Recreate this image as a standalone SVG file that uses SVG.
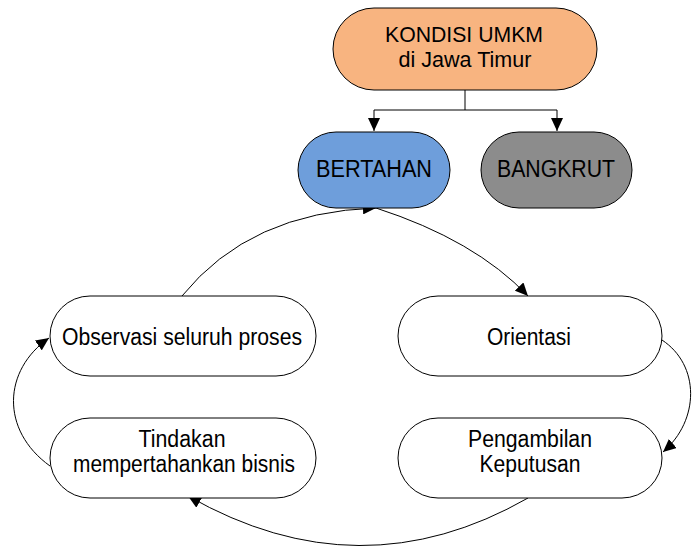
<svg xmlns="http://www.w3.org/2000/svg" width="692" height="547" viewBox="0 0 692 547">
<style>
.n{stroke:#000;stroke-width:1}
.t{font-family:"Liberation Sans",Arial,sans-serif;font-size:23px;fill:#000;text-anchor:middle}
.s{font-size:22px}
.c{fill:none;stroke:#000;stroke-width:1}
</style>
<defs>
<marker id="ah" markerWidth="14" markerHeight="12" refX="13" refY="6" orient="auto" markerUnits="userSpaceOnUse">
<path d="M0,0 L13,6 L0,12 Z" fill="#000"/>
</marker>
</defs>
<rect width="692" height="547" fill="#fff"/>
<g id="connectors">
<path class="c" d="M465,90 V110 M374,110 H557"/>
<path class="c" d="M374,110 V131" marker-end="url(#ah)"/>
<path class="c" d="M557,110 V131" marker-end="url(#ah)"/>
<path class="c" d="M182,296 Q250,212 376,208" marker-end="url(#ah)"/>
<path class="c" d="M376,208 Q475,240 528,296" marker-end="url(#ah)"/>
<path class="c" d="M662,340 C700,365 700,420 663,452" marker-end="url(#ah)"/>
<path class="c" d="M528,498 Q360,594 188,496" marker-end="url(#ah)"/>
<path class="c" d="M50,466 C0,430 3,370 49,338" marker-end="url(#ah)"/>
</g>
<g id="kondisi">
<rect class="n" x="333" y="8" width="264" height="82" rx="41" fill="#F8B480"/>
<text class="t s" x="464" y="42" textLength="158" lengthAdjust="spacingAndGlyphs">KONDISI UMKM</text>
<text class="t s" x="465" y="67" textLength="133" lengthAdjust="spacingAndGlyphs">di Jawa Timur</text>
</g>
<g id="bertahan">
<rect class="n" x="298" y="132" width="152" height="76" rx="38" fill="#6E9EDB"/>
<text class="t" x="374" y="177" textLength="116" lengthAdjust="spacingAndGlyphs">BERTAHAN</text>
</g>
<g id="bangkrut">
<rect class="n" x="481" y="132" width="151" height="76" rx="38" fill="#8C8C8C"/>
<text class="t" x="556" y="177" textLength="118" lengthAdjust="spacingAndGlyphs">BANGKRUT</text>
</g>
<g id="observasi">
<rect class="n" x="50" y="296" width="266" height="80" rx="40" fill="#fff"/>
<text class="t" x="182" y="345" textLength="240" lengthAdjust="spacingAndGlyphs">Observasi seluruh proses</text>
</g>
<g id="orientasi">
<rect class="n" x="398" y="296" width="264" height="80" rx="40" fill="#fff"/>
<text class="t" x="529" y="345" textLength="84" lengthAdjust="spacingAndGlyphs">Orientasi</text>
</g>
<g id="tindakan">
<rect class="n" x="50" y="418" width="266" height="80" rx="40" fill="#fff"/>
<text class="t" x="182" y="447" textLength="87" lengthAdjust="spacingAndGlyphs">Tindakan</text>
<text class="t" x="184" y="472" textLength="222" lengthAdjust="spacingAndGlyphs">mempertahankan bisnis</text>
</g>
<g id="pengambilan">
<rect class="n" x="398" y="418" width="264" height="80" rx="40" fill="#fff"/>
<text class="t" x="530" y="447" textLength="124" lengthAdjust="spacingAndGlyphs">Pengambilan</text>
<text class="t" x="530" y="472" textLength="101" lengthAdjust="spacingAndGlyphs">Keputusan</text>
</g>
</svg>
